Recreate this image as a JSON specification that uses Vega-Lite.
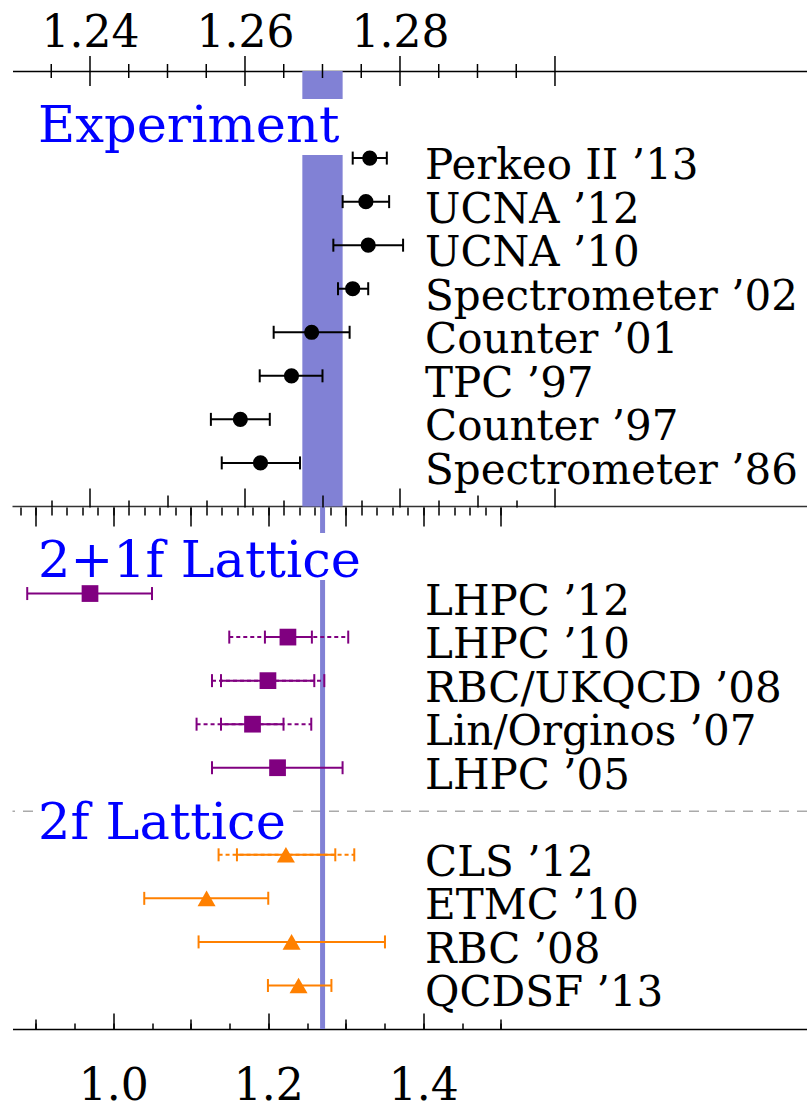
{
  "$schema": "https://vega.github.io/schema/vega-lite/v6.json",
  "width": 794.5,
  "height": 958,
  "autosize": {"type": "none"},
  "padding": {"left": 12.5, "top": 71, "right": 0, "bottom": 78},
  "background": "white",
  "config": {"view": {"stroke": null}, "font": "DejaVu Serif"},
  "datasets": {
    "experiment": [
      {"name": "Perkeo II ’13", "k": 0, "v": 1.2761, "lo": 1.2739, "hi": 1.2783},
      {"name": "UCNA ’12", "k": 1, "v": 1.2756, "lo": 1.2726, "hi": 1.2786},
      {"name": "UCNA ’10", "k": 2, "v": 1.2759, "lo": 1.2714, "hi": 1.2804},
      {"name": "Spectrometer ’02", "k": 3, "v": 1.2739, "lo": 1.2720, "hi": 1.2759},
      {"name": "Counter ’01", "k": 4, "v": 1.2686, "lo": 1.2637, "hi": 1.2735},
      {"name": "TPC ’97", "k": 5, "v": 1.2660, "lo": 1.2619, "hi": 1.2700},
      {"name": "Counter ’97", "k": 6, "v": 1.2594, "lo": 1.2556, "hi": 1.2632},
      {"name": "Spectrometer ’86", "k": 7, "v": 1.2620, "lo": 1.2570, "hi": 1.2671}
    ],
    "lattice": [
      {"name": "LHPC ’12", "grp": "2+1f", "k": 10, "v": 0.970, "lo": 0.889, "hi": 1.050},
      {"name": "LHPC ’10", "grp": "2+1f", "k": 11, "v": 1.2254, "lo": 1.1957, "hi": 1.2563, "olo": 1.1497, "ohi": 1.3032},
      {"name": "RBC/UKQCD ’08", "grp": "2+1f", "k": 12, "v": 1.1996, "lo": 1.1390, "hi": 1.2594, "olo": 1.1274, "ohi": 1.2723},
      {"name": "Lin/Orginos ’07", "grp": "2+1f", "k": 13, "v": 1.1797, "lo": 1.1390, "hi": 1.2197, "olo": 1.1075, "ohi": 1.2555},
      {"name": "LHPC ’05", "grp": "2+1f", "k": 14, "v": 1.2120, "lo": 1.1274, "hi": 1.2959},
      {"name": "CLS ’12", "grp": "2f", "k": 16, "v": 1.2228, "lo": 1.1596, "hi": 1.2865, "olo": 1.1359, "ohi": 1.3110},
      {"name": "ETMC ’10", "grp": "2f", "k": 17, "v": 1.1204, "lo": 1.0400, "hi": 1.2000},
      {"name": "RBC ’08", "grp": "2f", "k": 18, "v": 1.2301, "lo": 1.1101, "hi": 1.3506},
      {"name": "QCDSF ’13", "grp": "2f", "k": 19, "v": 1.2391, "lo": 1.1996, "hi": 1.2815}
    ],
    "average": [{"avg": 1.2701, "lo": 1.2674, "hi": 1.2726}],
    "topTicks": [
      {"t": 1.235, "len": 7}, {"t": 1.24, "len": 15}, {"t": 1.245, "len": 7},
      {"t": 1.25, "len": 7}, {"t": 1.255, "len": 7}, {"t": 1.26, "len": 15},
      {"t": 1.265, "len": 7}, {"t": 1.27, "len": 7}, {"t": 1.275, "len": 7},
      {"t": 1.28, "len": 15}, {"t": 1.285, "len": 7}, {"t": 1.29, "len": 7},
      {"t": 1.295, "len": 7}, {"t": 1.30, "len": 15}
    ]
  },
  "resolve": {"scale": {"x": "independent"}, "axis": {"x": "independent"}},
  "layer": [
    {
      "data": {"name": "average"},
      "mark": {"type": "rule", "color": "#333333", "strokeWidth": 1.5},
      "encoding": {
        "y": {"datum": 8, "type": "quantitative", "scale": {"domain": [-2, 20], "reverse": true, "nice": false, "zero": false}, "axis": null}
      }
    },
    {
      "data": {"name": "average"},
      "mark": {"type": "rule", "color": "#aaaaaa", "strokeWidth": 1.5, "strokeDash": [10, 8]},
      "encoding": {
        "y": {"datum": 15, "type": "quantitative", "scale": {"domain": [-2, 20], "reverse": true, "nice": false, "zero": false}, "axis": null}
      }
    },
    {
      "data": {"name": "average"},
      "mark": {"type": "rect", "color": "#8181d5"},
      "encoding": {
        "x": {"field": "lo", "type": "quantitative", "scale": {"domain": [1.23, 1.33252], "nice": false, "zero": false},
              "axis": {"orient": "top", "values": [1.24, 1.26, 1.28], "format": ".2f", "ticks": false, "domain": true, "domainColor": "#000000", "domainWidth": 1.5, "grid": false, "title": null, "labelFont": "DejaVu Serif", "labelFontSize": 44, "labelColor": "#000000", "labelBaseline": "alphabetic", "labelPadding": 25}},
        "x2": {"field": "hi"},
        "y": {"datum": -2, "type": "quantitative", "scale": {"domain": [-2, 20], "reverse": true, "nice": false, "zero": false},
              "axis": {"orient": "left", "domain": true, "domainColor": "#000000", "domainWidth": 1.5, "labels": false, "ticks": false, "grid": false, "title": null}},
        "y2": {"datum": 8}
      }
    },
    {
      "data": {"name": "topTicks"},
      "mark": {"type": "tick", "orient": "vertical", "thickness": 1.5, "color": "#000000", "opacity": 1, "yOffset": 0},
      "encoding": {
        "x": {"field": "t", "type": "quantitative", "scale": {"domain": [1.23, 1.33252], "nice": false, "zero": false}, "axis": null},
        "y": {"datum": -2, "type": "quantitative", "scale": {"domain": [-2, 20], "reverse": true, "nice": false, "zero": false}, "axis": null},
        "size": {"field": "len", "type": "quantitative", "scale": {"type": "linear", "domain": [0, 15], "range": [0, 30]}, "legend": null}
      }
    },
    {
      "data": {"name": "average"},
      "mark": {"type": "rule", "color": "#8181d5", "strokeWidth": 5},
      "encoding": {
        "x": {"field": "avg", "type": "quantitative", "scale": {"domain": [0.87, 1.89516], "nice": false, "zero": false},
              "axis": {"orient": "bottom", "values": [1.0, 1.2, 1.4], "format": ".1f", "ticks": false, "domain": true, "domainColor": "#000000", "domainWidth": 1.5, "grid": false, "title": null, "labelFont": "DejaVu Serif", "labelFontSize": 44, "labelColor": "#000000", "labelBaseline": "alphabetic", "labelPadding": 70}},
        "y": {"datum": 8, "type": "quantitative", "scale": {"domain": [-2, 20], "reverse": true, "nice": false, "zero": false}, "axis": null},
        "y2": {"datum": 20}
      }
    },
    {
      "data": {"name": "average"},
      "layer": [
        {
          "mark": {"type": "rect", "color": "white"},
          "encoding": {
            "x": {"datum": 1.23329, "type": "quantitative", "scale": {"domain": [1.23, 1.33252], "nice": false, "zero": false}, "axis": null},
            "x2": {"datum": 1.2727},
            "y": {"datum": -1.357, "type": "quantitative", "scale": {"domain": [-2, 20], "reverse": true, "nice": false, "zero": false}, "axis": null},
            "y2": {"datum": -0.071}
          }
        },
        {
          "mark": {"type": "rect", "color": "white"},
          "encoding": {
            "x": {"datum": 1.23329, "type": "quantitative", "axis": null},
            "x2": {"datum": 1.2745},
            "y": {"datum": 8.61, "type": "quantitative", "axis": null},
            "y2": {"datum": 9.69}
          }
        },
        {
          "mark": {"type": "rect", "color": "white"},
          "encoding": {
            "x": {"datum": 1.23329, "type": "quantitative", "axis": null},
            "x2": {"datum": 1.2656},
            "y": {"datum": 14.7, "type": "quantitative", "axis": null},
            "y2": {"datum": 15.9}
          }
        },
        {
          "mark": {"type": "text", "text": "Experiment", "font": "DejaVu Serif", "fontSize": 51, "color": "#0000ff", "align": "left", "baseline": "alphabetic"},
          "encoding": {
            "x": {"datum": 1.23329, "type": "quantitative", "axis": null},
            "y": {"datum": -0.376, "type": "quantitative", "axis": null}
          }
        },
        {
          "mark": {"type": "text", "text": "2+1f Lattice", "font": "DejaVu Serif", "fontSize": 51, "color": "#0000ff", "align": "left", "baseline": "alphabetic"},
          "encoding": {
            "x": {"datum": 1.23329, "type": "quantitative", "axis": null},
            "y": {"datum": 9.627, "type": "quantitative", "axis": null}
          }
        },
        {
          "mark": {"type": "text", "text": "2f Lattice", "font": "DejaVu Serif", "fontSize": 51, "color": "#0000ff", "align": "left", "baseline": "alphabetic"},
          "encoding": {
            "x": {"datum": 1.23329, "type": "quantitative", "axis": null},
            "y": {"datum": 15.644, "type": "quantitative", "axis": null}
          }
        }
      ]
    },
    {
      "data": {"name": "experiment"},
      "mark": {"type": "rule", "color": "#000000", "strokeWidth": 2},
      "encoding": {
        "x": {"field": "lo", "type": "quantitative", "scale": {"domain": [1.23, 1.33252], "nice": false, "zero": false},
              "axis": {"orient": "top", "offset": -436, "values": [1.24, 1.26, 1.28, 1.30], "tickSize": 19, "tickWidth": 1.5, "tickColor": "#000000", "labels": false, "domain": false, "grid": false, "title": null, "zindex": 1}},
        "x2": {"field": "hi"},
        "y": {"field": "k", "type": "quantitative", "scale": {"domain": [-2, 20], "reverse": true, "nice": false, "zero": false}, "axis": null}
      }
    },
    {
      "data": {"name": "experiment"},
      "mark": {"type": "tick", "orient": "vertical", "size": 13, "thickness": 2, "color": "#000000", "opacity": 1},
      "encoding": {
        "x": {"field": "lo", "type": "quantitative", "scale": {"domain": [1.23, 1.33252], "nice": false, "zero": false},
              "axis": {"orient": "top", "offset": -436, "values": [1.25, 1.27, 1.29], "tickSize": 12, "tickWidth": 1.5, "tickColor": "#000000", "labels": false, "domain": false, "grid": false, "title": null, "zindex": 1}},
        "y": {"field": "k", "type": "quantitative", "scale": {"domain": [-2, 20], "reverse": true, "nice": false, "zero": false}, "axis": null}
      }
    },
    {
      "data": {"name": "experiment"},
      "mark": {"type": "tick", "orient": "vertical", "size": 13, "thickness": 2, "color": "#000000", "opacity": 1},
      "encoding": {
        "x": {"field": "hi", "type": "quantitative", "scale": {"domain": [1.23, 1.33252], "nice": false, "zero": false},
              "axis": {"orient": "top", "offset": -436, "values": [1.235, 1.245, 1.255, 1.265, 1.275, 1.285, 1.295], "tickSize": 7, "tickWidth": 1.5, "tickColor": "#000000", "labels": false, "domain": false, "grid": false, "title": null, "zindex": 1}},
        "y": {"field": "k", "type": "quantitative", "scale": {"domain": [-2, 20], "reverse": true, "nice": false, "zero": false}, "axis": null}
      }
    },
    {
      "data": {"name": "experiment"},
      "mark": {"type": "circle", "size": 230, "color": "#000000", "opacity": 1},
      "encoding": {
        "x": {"field": "v", "type": "quantitative", "scale": {"domain": [1.23, 1.33252], "nice": false, "zero": false}, "axis": null},
        "y": {"field": "k", "type": "quantitative", "scale": {"domain": [-2, 20], "reverse": true, "nice": false, "zero": false}, "axis": null}
      }
    },
    {
      "data": {"name": "experiment"},
      "mark": {"type": "text", "font": "DejaVu Serif", "fontSize": 42, "color": "#000000", "align": "left", "baseline": "alphabetic", "dy": 21},
      "encoding": {
        "x": {"datum": 1.28323, "type": "quantitative", "scale": {"domain": [1.23, 1.33252], "nice": false, "zero": false}, "axis": null},
        "y": {"field": "k", "type": "quantitative", "scale": {"domain": [-2, 20], "reverse": true, "nice": false, "zero": false}, "axis": null},
        "text": {"field": "name"}
      }
    },
    {
      "data": {"name": "lattice"},
      "transform": [{"filter": "isValid(datum.olo)"}],
      "mark": {"type": "rule", "strokeWidth": 2, "strokeDash": [4, 3]},
      "encoding": {
        "x": {"field": "olo", "type": "quantitative", "scale": {"domain": [0.87, 1.89516], "nice": false, "zero": false},
              "axis": {"orient": "top", "offset": -958, "values": [1.0, 1.2, 1.4], "tickSize": 16, "tickWidth": 1.5, "tickColor": "#000000", "labels": false, "domain": false, "grid": false, "title": null, "zindex": 1}},
        "x2": {"field": "ohi"},
        "y": {"field": "k", "type": "quantitative", "scale": {"domain": [-2, 20], "reverse": true, "nice": false, "zero": false}, "axis": null},
        "color": {"field": "grp", "type": "nominal", "scale": {"domain": ["2+1f", "2f"], "range": ["#800080", "#ff8000"]}, "legend": null}
      }
    },
    {
      "data": {"name": "lattice"},
      "mark": {"type": "rule", "strokeWidth": 2},
      "encoding": {
        "x": {"field": "lo", "type": "quantitative", "scale": {"domain": [0.87, 1.89516], "nice": false, "zero": false},
              "axis": {"orient": "top", "offset": -958, "values": [0.9, 1.1, 1.3, 1.5], "tickSize": 10, "tickWidth": 1.5, "tickColor": "#000000", "labels": false, "domain": false, "grid": false, "title": null, "zindex": 1}},
        "x2": {"field": "hi"},
        "y": {"field": "k", "type": "quantitative", "scale": {"domain": [-2, 20], "reverse": true, "nice": false, "zero": false}, "axis": null},
        "color": {"field": "grp", "type": "nominal", "scale": {"domain": ["2+1f", "2f"], "range": ["#800080", "#ff8000"]}, "legend": null}
      }
    },
    {
      "data": {"name": "lattice"},
      "transform": [
        {"fold": ["lo", "hi", "olo", "ohi"], "as": ["end", "at"]},
        {"filter": "isValid(datum.at)"}
      ],
      "mark": {"type": "tick", "orient": "vertical", "size": 13, "thickness": 2, "opacity": 1},
      "encoding": {
        "x": {"field": "at", "type": "quantitative", "scale": {"domain": [0.87, 1.89516], "nice": false, "zero": false},
              "axis": {"orient": "top", "offset": -958, "values": [0.9, 0.95, 1.0, 1.05, 1.1, 1.15, 1.2, 1.25, 1.3, 1.35, 1.4, 1.45, 1.5], "tickSize": 6, "tickWidth": 1.5, "tickColor": "#000000", "labels": false, "domain": false, "grid": false, "title": null, "zindex": 1}},
        "y": {"field": "k", "type": "quantitative", "scale": {"domain": [-2, 20], "reverse": true, "nice": false, "zero": false}, "axis": null},
        "color": {"field": "grp", "type": "nominal", "scale": {"domain": ["2+1f", "2f"], "range": ["#800080", "#ff8000"]}, "legend": null}
      }
    },
    {
      "data": {"name": "lattice"},
      "transform": [{"filter": "datum.grp === '2+1f'"}],
      "mark": {"type": "point", "shape": "square", "filled": true, "size": 280, "opacity": 1},
      "encoding": {
        "x": {"field": "v", "type": "quantitative", "scale": {"domain": [0.87, 1.89516], "nice": false, "zero": false},
              "axis": {"orient": "bottom", "offset": -522, "values": [0.9, 1.0, 1.1, 1.2, 1.3, 1.4, 1.5], "tickSize": 19, "tickWidth": 1.5, "tickColor": "#000000", "labels": false, "domain": false, "grid": false, "title": null, "zindex": 1}},
        "y": {"field": "k", "type": "quantitative", "scale": {"domain": [-2, 20], "reverse": true, "nice": false, "zero": false}, "axis": null},
        "color": {"field": "grp", "type": "nominal", "scale": {"domain": ["2+1f", "2f"], "range": ["#800080", "#ff8000"]}, "legend": null}
      }
    },
    {
      "data": {"name": "lattice"},
      "transform": [{"filter": "datum.grp === '2f'"}],
      "mark": {"type": "point", "shape": "triangle-up", "filled": true, "size": 324, "opacity": 1},
      "encoding": {
        "x": {"field": "v", "type": "quantitative", "scale": {"domain": [0.87, 1.89516], "nice": false, "zero": false},
              "axis": {"orient": "bottom", "offset": -522, "values": [0.88, 0.90, 0.92, 0.94, 0.96, 0.98, 1.00, 1.02, 1.04, 1.06, 1.08, 1.10, 1.12, 1.14, 1.16, 1.18, 1.20, 1.22, 1.24, 1.26, 1.28, 1.30, 1.32, 1.34, 1.36, 1.38, 1.40, 1.42, 1.44, 1.46, 1.48, 1.50], "tickSize": 8, "tickWidth": 1.5, "tickColor": "#000000", "labels": false, "domain": false, "grid": false, "title": null, "zindex": 1}},
        "y": {"field": "k", "type": "quantitative", "scale": {"domain": [-2, 20], "reverse": true, "nice": false, "zero": false}, "axis": null},
        "color": {"field": "grp", "type": "nominal", "scale": {"domain": ["2+1f", "2f"], "range": ["#800080", "#ff8000"]}, "legend": null}
      }
    },
    {
      "data": {"name": "lattice"},
      "mark": {"type": "text", "font": "DejaVu Serif", "fontSize": 42, "color": "#000000", "align": "left", "baseline": "alphabetic", "dy": 21},
      "encoding": {
        "x": {"datum": 1.40226, "type": "quantitative", "scale": {"domain": [0.87, 1.89516], "nice": false, "zero": false}, "axis": null},
        "y": {"field": "k", "type": "quantitative", "scale": {"domain": [-2, 20], "reverse": true, "nice": false, "zero": false}, "axis": null},
        "text": {"field": "name"}
      }
    }
  ]
}
